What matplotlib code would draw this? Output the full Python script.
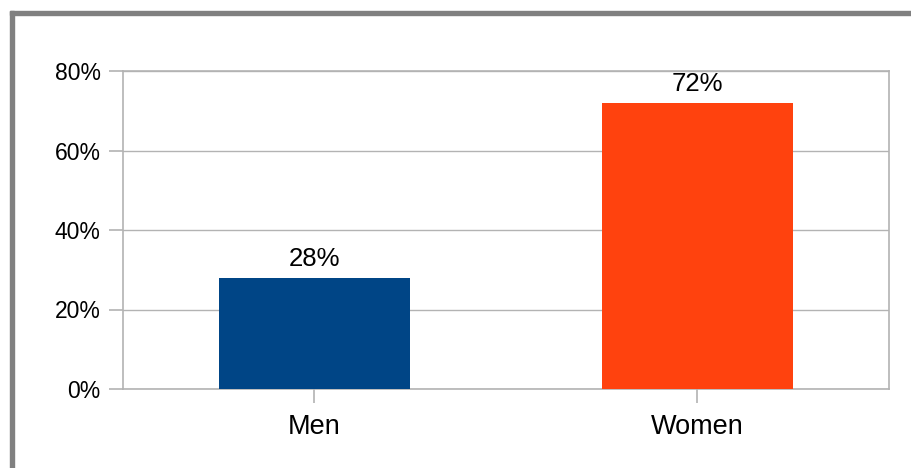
import matplotlib
matplotlib.use("Agg")
import matplotlib.pyplot as plt
from matplotlib.patches import Rectangle

categories = ["Men", "Women"]
values = [28, 72]
colors = ["#004586", "#ff420e"]
yticks = [0, 20, 40, 60, 80]
ytick_labels = ["0%", "20%", "40%", "60%", "80%"]

plt.rcParams['font.family'] = ['Liberation Sans', 'DejaVu Sans']

W, H = 912, 468
fig = plt.figure(figsize=(W / 100, H / 100), dpi=100)
ax = fig.add_axes([123 / W, 1 - 389 / H, (889 - 123) / W, (389 - 71) / H])

x = list(range(len(categories)))
bars = ax.bar(x, values, width=0.5, color=colors, zorder=3)
ax.set_xlim(-0.5, len(categories) - 0.5)
ax.set_ylim(0, 80)
ax.set_yticks(yticks)
ax.set_yticklabels(ytick_labels, fontsize=16.5)
ax.set_xticks(x)
ax.set_xticklabels(categories, fontsize=19.5)
ax.yaxis.grid(True, color="#b3b3b3", linewidth=1, zorder=0)
for s in ax.spines.values():
    s.set_color("#b3b3b3")
    s.set_linewidth(1.2)
ax.tick_params(axis="both", length=10, color="#b3b3b3", width=1.2)
ax.tick_params(axis="y", pad=6)
ax.tick_params(axis="x", pad=8)

for xi, v in zip(x, values):
    ax.annotate(f"{v}%", (xi, v), xytext=(0, 5), textcoords="offset points",
                ha="center", va="bottom", fontsize=18.5)

# outer frame (top and left)
fig.patches.append(Rectangle((10 / W, 0), 4 / W, 1 - 11 / H, transform=fig.transFigure,
                             color="#808080", zorder=10))
fig.patches.append(Rectangle((10 / W, 1 - 15 / H), 1 - 10 / W, 4 / H, transform=fig.transFigure,
                             color="#808080", zorder=10))

fig.savefig("out.png", dpi=100)
